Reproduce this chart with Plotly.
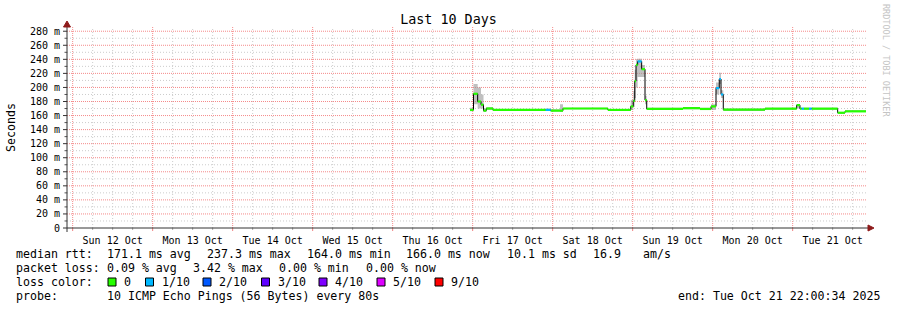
import plotly.graph_objects as go
from datetime import datetime, timedelta

# ---------------- data ----------------
times = [
    "2025-10-16 23:12", "2025-10-17 00:15", "2025-10-17 01:30", "2025-10-17 02:30",
    "2025-10-17 03:15", "2025-10-17 04:05", "2025-10-17 06:06", "2025-10-17 21:54",
    "2025-10-17 23:24", "2025-10-18 02:12", "2025-10-18 03:06", "2025-10-18 16:34",
    "2025-10-18 23:25", "2025-10-19 00:11", "2025-10-19 00:37", "2025-10-19 01:00",
    "2025-10-19 01:30", "2025-10-19 02:42", "2025-10-19 03:42", "2025-10-19 04:13",
    "2025-10-19 15:06", "2025-10-19 20:12", "2025-10-19 23:30", "2025-10-20 01:00",
    "2025-10-20 01:59", "2025-10-20 02:30", "2025-10-20 03:11", "2025-10-20 15:42",
    "2025-10-21 01:12", "2025-10-21 02:11", "2025-10-21 02:42", "2025-10-21 03:24",
    "2025-10-21 04:54", "2025-10-21 05:42", "2025-10-21 13:30", "2025-10-21 15:42",
]
median_ms = [
    168, 191, 180, 175.5, 167, 170, 168, 168,
    167, 167, 170, 168,
    173, 181, 209, 232, 237, 226, 182, 169.4,
    170.5, 169.4, 173, 199, 212, 190, 168.4, 169.8,
    174.8, 169.8, 169.8, 169.8, 169.8, 169.8, 164, 166,
]
loss_tenths = [
    0, 0, 0, 0, 0, 0, 0, 1,
    0, 0, 0, 0,
    0, 0, 0, 0, 1, 0, 0, 0,
    0, 0, 0, 1, 1, 1, 0, 0,
    0, 0, 1, 0, 1, 0, 0, 0,
]
smoke_lo = [
    166, 176, 170, 170, 165, 168, 167, 167,
    166, 165, 169, 167,
    168, 172, 185, 200, 215, 215, 176, 168,
    169, 168, 168, 190, 205, 185, 167, 169,
    170, 169, 169, 169, 169, 169, 163, 165,
]
smoke_hi = [
    171, 205, 200, 190, 170, 172, 169, 170,
    169, 176, 171, 169,
    182, 195, 225, 240, 241, 232, 188, 171,
    172, 171, 176, 207, 221, 196, 170, 171,
    176, 171, 171, 171, 171, 171, 165, 167,
]
data_end = "2025-10-21 22:00"

x_range = ["2025-10-11 22:18", "2025-10-21 22:18"]
first_midnight = "2025-10-12"
n_days = 10
y_max = 286
y_ticks = [0, 20, 40, 60, 80, 100, 120, 140, 160, 180, 200, 220, 240, 260, 280]
y_minor = [10, 30, 50, 70, 90, 110, 130, 150, 170, 190, 210, 230, 250, 270]

loss_levels = [0, 1, 2, 3, 4, 5, 9]
loss_labels = ["0", "1/10", "2/10", "3/10", "4/10", "5/10", "9/10"]
loss_colors = ["#26ff00", "#00b8ff", "#0059ff", "#5e00ff", "#7e00ff", "#dd00ff", "#ff0000"]

title_text = "Last 10 Days"
legend_rtt = ["median rtt:", "171.1 ms avg", "237.3 ms max", "164.0 ms min",
              "166.0 ms now", "10.1 ms sd", "16.9", "am/s"]
legend_loss = ["packet loss:", "0.09 % avg", "3.42 % max", "0.00 % min", "0.00 % now"]
legend_probe = ["probe:", "10 ICMP Echo Pings (56 Bytes) every 80s",
                "end: Tue Oct 21 22:00:34 2025"]

# ---------------- layout geometry (pixels) ----------------
W, H = 897, 310
L, R, T, B = 67, 30, 27, 82
PW, PH = W - L - R, H - T - B
BOTTOM = T + PH


def px(xp):
    return (xp - L) / PW


def py(yp):
    return (BOTTOM - yp) / PH


MONO = "DejaVu Sans Mono"
major_grid = "#f58a8a"
minor_grid = "#cccccc"

d0 = datetime.fromisoformat(first_midnight)
x_lo = datetime.fromisoformat(x_range[0])
x_hi = datetime.fromisoformat(x_range[1])
six_hour_ticks, day_ticks = [], []
for d in range(-1, n_days):
    for h in (0, 6, 12, 18):
        t = d0 + timedelta(days=d, hours=h)
        if x_lo <= t <= x_hi:
            (day_ticks if h == 0 else six_hour_ticks).append(t.strftime("%Y-%m-%d %H:%M"))

fig = go.Figure()

t_ext = times + [data_end]
med_ext = median_ms + [median_ms[-1]]
lo_ext = smoke_lo + [smoke_lo[-1]]
hi_ext = smoke_hi + [smoke_hi[-1]]

# smoke band
fig.add_trace(go.Scatter(x=t_ext, y=lo_ext, mode="lines", line=dict(width=0, shape="hv"),
                         hoverinfo="skip", showlegend=False))
fig.add_trace(go.Scatter(x=t_ext, y=hi_ext, mode="lines", line=dict(width=0, shape="hv"),
                         fill="tonexty", fillcolor="rgba(150,150,150,0.6)",
                         hoverinfo="skip", showlegend=False))

# thin black median
fig.add_trace(go.Scatter(x=t_ext, y=med_ext, mode="lines",
                         line=dict(color="#000000", width=1, shape="hv"),
                         hoverinfo="skip", showlegend=False))

# loss coloured median steps
for lvl, col in zip(loss_levels, loss_colors):
    xs, ys = [], []
    for i in range(len(times)):
        if loss_tenths[i] == lvl:
            xs += [t_ext[i], t_ext[i + 1], None]
            ys += [median_ms[i], median_ms[i], None]
    if xs:
        fig.add_trace(go.Scatter(x=xs, y=ys, mode="lines",
                                 line=dict(color=col, width=2.2),
                                 hoverinfo="skip", showlegend=False))

annotations = []


def add_text(xpix, ypix, text, size=11.6, color="#000000", angle=0, anchor="left"):
    annotations.append(dict(x=px(xpix), y=py(ypix), xref="paper", yref="paper",
                            text=text, showarrow=False, xanchor=anchor, yanchor="middle",
                            textangle=angle, borderpad=0, borderwidth=0,
                            font=dict(family=MONO, size=size, color=color)))


for xp_, txt in zip([16, 107.3, 207.3, 306.7, 406, 507.3, 593.3, 642.7], legend_rtt):
    add_text(xp_, 254, txt)
for xp_, txt in zip([16, 107.3, 192.7, 279.3, 366], legend_loss):
    add_text(xp_, 268, txt)
add_text(16, 282, "loss color:")
box_centers = [112, 149.5, 207, 265.5, 323, 381, 439]
shapes = []
for cx, lab, col in zip(box_centers, loss_labels, loss_colors):
    shapes.append(dict(type="rect", xref="paper", yref="paper",
                       x0=px(cx - 4), x1=px(cx + 4), y0=py(286), y1=py(278),
                       fillcolor=col, line=dict(color="#000000", width=1)))
    add_text(cx + 12, 282, lab)
for xp_, txt in zip([16, 107.3, 678.3], legend_probe):
    add_text(xp_, 296, txt)

add_text(11, 127, "Seconds", size=11.6, angle=-90, anchor="center")
add_text(886, 60, "RRDTOOL / TOBI OETIKER", size=8.5, color="#c4c4c4", angle=90, anchor="center")


def vline(t, color, dash, y1=1, y0=0):
    shapes.append(dict(type="line", xref="x", yref="paper", x0=t, x1=t, y0=y0, y1=y1,
                       layer="below", line=dict(color=color, width=1, dash=dash)))


def hline(v, color, dash, x0=0, x1=1):
    shapes.append(dict(type="line", xref="paper", yref="y", x0=x0, x1=x1, y0=v, y1=v,
                       layer="below", line=dict(color=color, width=1, dash=dash)))


# grid: gray dotted minor, red dotted major, with short tick marks
for t in six_hour_ticks:
    vline(t, minor_grid, "1px,2px")
    vline(t, "#aaaaaa", "solid", y0=py(230), y1=0)
for t in day_ticks:
    vline(t, major_grid, "1px,1px")
    vline(t, "#f08080", "solid", y0=py(231), y1=0)
for v in y_minor:
    hline(v, minor_grid, "1px,2px")
    hline(v, "#555555", "solid", x0=px(64.5), x1=0)
for v in y_ticks[1:]:
    hline(v, major_grid, "1px,1px")
    hline(v, "#333333", "solid", x0=px(63), x1=0)

axis_col = "#333333"
arrow_col = "#8e1b1b"
shapes.append(dict(type="line", xref="paper", yref="paper", x0=px(63), x1=px(869),
                   y0=0, y1=0, line=dict(color=axis_col, width=1)))
shapes.append(dict(type="line", xref="paper", yref="paper", x0=0, x1=0,
                   y0=py(232), y1=py(25), line=dict(color=axis_col, width=1)))
shapes.append(dict(type="path", xref="paper", yref="paper",
                   path=f"M {px(868)} {py(225)} L {px(874)} {py(228)} L {px(868)} {py(231)} Z",
                   fillcolor=arrow_col, line=dict(color=arrow_col, width=1)))
shapes.append(dict(type="path", xref="paper", yref="paper",
                   path=f"M {px(63.5)} {py(27)} L {px(67)} {py(21)} L {px(70.5)} {py(27)} Z",
                   fillcolor=arrow_col, line=dict(color=arrow_col, width=1)))

tickfont = dict(family=MONO, size=10, color="#000000")
fig.update_layout(
    width=W, height=H,
    margin=dict(l=L, r=R, t=T, b=B),
    paper_bgcolor="#ffffff", plot_bgcolor="#ffffff",
    title=dict(text=title_text, x=0.5, xanchor="center", y=1 - 19 / H, yanchor="middle",
               font=dict(family=MONO, size=13.4, color="#000000")),
    showlegend=False,
    xaxis=dict(type="date", range=x_range, tick0=first_midnight, dtick=86400000,
               tickformat="%a %d %b", ticklabelmode="period",
               showgrid=False, ticks="outside", ticklen=3, tickcolor="rgba(0,0,0,0)",
               showline=False, zeroline=False, tickfont=tickfont),
    yaxis=dict(range=[0, y_max], tickmode="array", tickvals=y_ticks,
               ticktext=[f"{v} m" if v else "0" for v in y_ticks],
               showgrid=False, ticks="outside", ticklen=4, tickcolor="rgba(0,0,0,0)",
               showline=False, zeroline=False, tickfont=tickfont),
    annotations=annotations,
    shapes=shapes,
)

fig.write_html("out.html")
